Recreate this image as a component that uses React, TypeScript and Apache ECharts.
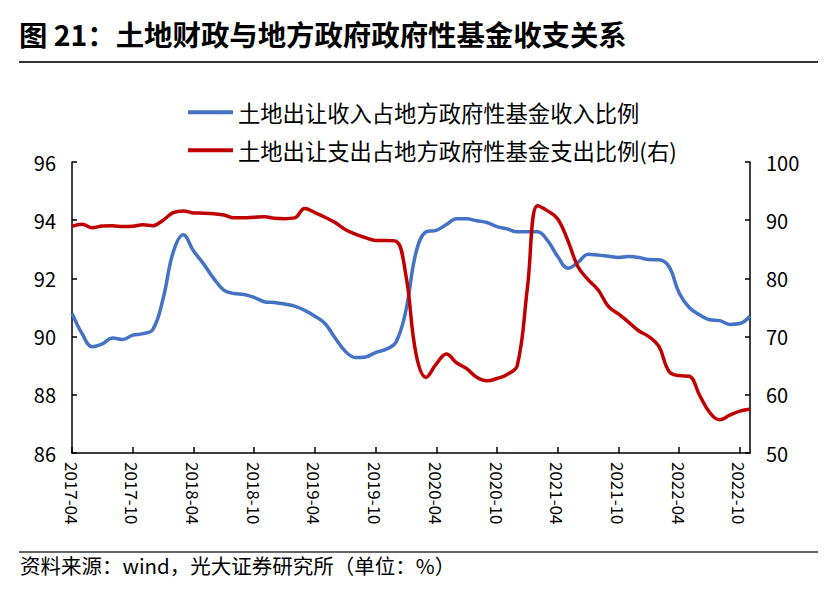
import React, { useEffect, useRef } from "react";
import * as echarts from "echarts";

const startYear = 2017;
const startMonth = 4;
const monthCount = 68;
const categories: string[] = [];
for (let k = 0; k < monthCount; k++) {
  const m = startMonth - 1 + k;
  const y = startYear + Math.floor(m / 12);
  const mm = (m % 12) + 1;
  categories.push(`${y}-${mm < 10 ? "0" + mm : mm}`);
}

const landIncomeShare = [
  90.8, 90.1, 89.65, 89.75, 89.95, 89.9, 90.05, 90.1, 90.25, 91.3,
  92.9, 93.5, 92.95, 92.5, 92.0, 91.6, 91.48, 91.45, 91.35, 91.2,
  91.17, 91.12, 91.05, 90.9, 90.7, 90.45, 89.95, 89.5, 89.28, 89.3,
  89.45, 89.56, 89.8, 90.9, 92.9, 93.6, 93.65, 93.85, 94.05, 94.05,
  93.98, 93.92, 93.78, 93.7, 93.6, 93.6, 93.6, 93.3, 92.75, 92.35,
  92.55, 92.83, 92.8, 92.76, 92.72, 92.75, 92.72, 92.65, 92.64, 92.4,
  91.5, 91.0, 90.75, 90.58, 90.55, 90.42, 90.45, 90.7,
];

const landExpenseShare = [
  88.95, 89.3, 88.7, 89.0, 89.05, 88.9, 88.95, 89.2, 89.05, 90.0,
  91.3, 91.6, 91.25, 91.2, 91.1, 90.9, 90.4, 90.4, 90.5, 90.6,
  90.35, 90.27, 90.4, 92.0, 91.3, 90.5, 89.6, 88.4, 87.6, 87.0,
  86.5, 86.5, 86.4, 80.5, 67.0, 63.0, 65.3, 67.0, 65.5, 64.5,
  63.0, 62.4, 62.8, 63.5, 65.0, 78.3, 92.5, 91.6, 90.2, 86.5,
  82.0, 79.8, 78.0, 75.2, 73.9, 72.5, 71.0, 70.0, 68.3, 64.0,
  63.3, 63.2, 60.0, 57.0, 55.7, 56.5, 57.2, 57.5,
];

const seriesNames = [
  "土地出让收入占地方政府性基金收入比例",
  "土地出让支出占地方政府性基金支出比例(右)",
];
const titleText = "图 21：土地财政与地方政府政府性基金收支关系";
const sourceText = "资料来源：wind，光大证券研究所（单位：%）";

const FONT = "'Noto Sans CJK SC', 'Noto Sans', sans-serif";

export default function App() {
  const ref = useRef<HTMLDivElement>(null);
  useEffect(() => {
    if (!ref.current) return;
    const chart = echarts.init(ref.current, undefined, { renderer: "svg" });
    const axisLine = { show: true, lineStyle: { color: "#000", width: 1.5 } };
    const legendBase = {
      orient: "vertical" as const,
      left: 183,
      itemWidth: 45,
      itemHeight: 4,
      icon: "rect",
      textStyle: { fontFamily: FONT, fontSize: 22.3, color: "#000" },
    };
    chart.setOption({
      animation: false,
      backgroundColor: "#fff",
      textStyle: { fontFamily: FONT },
      graphic: [
        {
          type: "text",
          left: 19,
          top: 19,
          style: { text: titleText, font: `bold 28.4px ${FONT}`, fill: "#000" },
        },
        {
          type: "line",
          shape: { x1: 19, y1: 62, x2: 818, y2: 62 },
          style: { stroke: "#333", lineWidth: 2 },
        },
        {
          type: "line",
          shape: { x1: 19, y1: 552, x2: 818, y2: 552 },
          style: { stroke: "#333", lineWidth: 1.5 },
        },
        {
          type: "text",
          left: 20,
          top: 555,
          style: { text: sourceText, font: `20.5px ${FONT}`, fill: "#000" },
        },
      ],
      legend: [
        { ...legendBase, top: 96, data: [seriesNames[0]] },
        { ...legendBase, top: 134, data: [seriesNames[1]] },
      ],
      grid: { left: 72, right: 90, top: 162, bottom: 136, containLabel: false },
      xAxis: {
        type: "category",
        data: categories,
        boundaryGap: false,
        axisLine,
        axisTick: { show: true, inside: true, interval: 5, length: 6, lineStyle: { color: "#000", width: 1.5 } },
        axisLabel: {
          interval: 5,
          rotate: -90,
          margin: 9,
          fontSize: 17,
          color: "#000",
          fontFamily: FONT,
        },
        splitLine: { show: false },
      },
      yAxis: [
        {
          type: "value",
          min: 86,
          max: 96,
          interval: 2,
          axisLine,
          axisTick: { show: true, inside: true, length: 5, lineStyle: { color: "#000", width: 1.5 } },
          axisLabel: { fontSize: 20, color: "#000", margin: 16, fontFamily: FONT },
          splitLine: { show: false },
        },
        {
          type: "value",
          min: 50,
          max: 100,
          interval: 10,
          position: "right",
          axisLine,
          axisTick: { show: true, inside: true, length: 5, lineStyle: { color: "#000", width: 1.5 } },
          axisLabel: { fontSize: 20, color: "#000", margin: 16, fontFamily: FONT },
          splitLine: { show: false },
        },
      ],
      series: [
        {
          name: seriesNames[0],
          type: "line",
          yAxisIndex: 0,
          data: landIncomeShare,
          smooth: 0.4,
          showSymbol: false,
          symbol: "none",
          lineStyle: { color: "#4472C4", width: 3.5 },
          itemStyle: { color: "#4472C4" },
        },
        {
          name: seriesNames[1],
          type: "line",
          yAxisIndex: 1,
          data: landExpenseShare,
          smooth: 0.4,
          showSymbol: false,
          symbol: "none",
          lineStyle: { color: "#C00000", width: 3.5 },
          itemStyle: { color: "#C00000" },
        },
      ],
    });
    return () => chart.dispose();
  }, []);
  return (
    <div
      ref={ref}
      style={{ position: "fixed", left: 0, top: 0, width: 840, height: 589, background: "#fff" }}
    />
  );
}
